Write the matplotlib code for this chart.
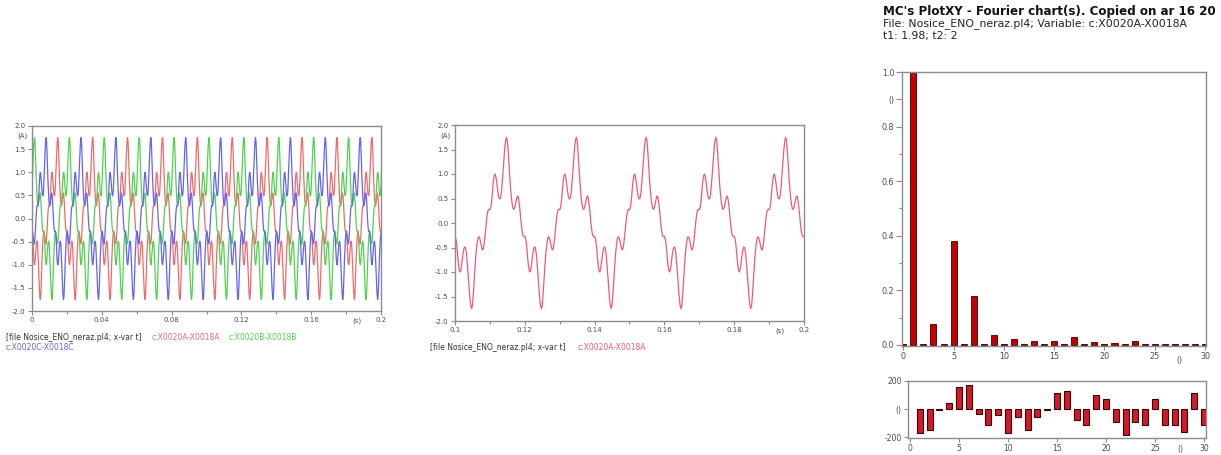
"""
PlotXY screenshot: three-phase currents, one phase zoomed, and its Fourier chart
"""

import numpy as np
import matplotlib
matplotlib.use('Agg')
import matplotlib.pyplot as plt
import matplotlib.transforms as mtransforms

plt.rcParams['font.family'] = ['DejaVu Sans']

W, H = 1221, 455

step_ms = 0.25
period_ms = 20.0
neg_half = [-0.27, -0.32, -0.45, -0.65, -0.85, -0.97, -1.00, -0.93, -0.80, -0.65,
            -0.54, -0.49, -0.50, -0.60, -0.80, -1.05, -1.30, -1.52, -1.68, -1.75,
            -1.68, -1.45, -1.15, -0.88, -0.64, -0.46, -0.34, -0.28, -0.29, -0.36,
            -0.45, -0.53, -0.55, -0.48, -0.34, -0.15, 0.03, 0.18, 0.26, 0.28]
pos_half = [0.27, 0.32, 0.45, 0.65, 0.85, 0.97, 1.00, 0.93, 0.80, 0.65,
            0.54, 0.49, 0.50, 0.60, 0.80, 1.05, 1.30, 1.52, 1.68, 1.75,
            1.68, 1.45, 1.15, 0.88, 0.64, 0.46, 0.34, 0.28, 0.29, 0.36,
            0.45, 0.53, 0.55, 0.48, 0.34, 0.15, -0.03, -0.18, -0.26, -0.28]
wave_period = neg_half + pos_half

# phase shifts of the three currents (fraction of a period)
phase_names = ['c:X0020A-X0018A', 'c:X0020B-X0018B', 'c:X0020C-X0018C']
phase_shift = [0.0, 1 / 3, 2 / 3]
phase_colors = ['#f06a6a', '#4fd34f', '#6464f0']

# Fourier chart of c:X0020A-X0018A
orders = list(range(0, 31))
magnitude = [0.003, 1.0, 0.004, 0.075, 0.004, 0.38, 0.004, 0.18, 0.005, 0.035,
             0.004, 0.02, 0.005, 0.015, 0.005, 0.015, 0.005, 0.03, 0.005, 0.01,
             0.004, 0.008, 0.005, 0.015, 0.005, 0.005, 0.004, 0.004, 0.004, 0.004,
             0.004]
phase_orders = list(range(1, 31))
phase_deg = [-170, -145, -5, 45, 160, 170, -35, -115, -45, -170,
             -55, -150, -55, -5, 115, 130, -80, -115, 100, 75,
             -90, -185, -90, -115, 75, -115, -115, -160, 115, -115]

# time base: 12 periods starting one period before 0
n_per = 12
t_ms = -period_ms + np.arange(n_per * len(wave_period) + 1) * step_ms
wave = np.append(np.tile(wave_period, n_per), wave_period[0])
t = t_ms / 1000.0
T = period_ms / 1000.0

SPINE = '#8c8c8c'
LABEL = '#4a4a4a'
LEG = 5.5


def box(x0, y0, x1, y1):
    return [x0 / W, 1 - y1 / H, (x1 - x0) / W, (y1 - y0) / H]


def style(ax, size):
    for s in ax.spines.values():
        s.set_color(SPINE)
        s.set_linewidth(1.0)
    ax.tick_params(which='both', direction='out', colors=SPINE, labelcolor=LABEL,
                   labelsize=size, length=3, width=0.8, pad=1.5)
    ax.tick_params(which='minor', length=2)


def wave_axes(ax, xlim, xticks, xlabels, xminor, s_pos):
    ax.set_xlim(*xlim)
    ax.set_ylim(-2.0, 2.0)
    ax.set_xticks(xticks)
    ax.set_xticklabels(xlabels)
    ax.set_xticks(xminor, minor=True)
    yt = np.arange(-2.0, 2.01, 0.5)
    ax.set_yticks(yt)
    ax.set_yticklabels([f'{v:.1f}' for v in yt])
    style(ax, 5)
    tr = mtransforms.blended_transform_factory(ax.transData, ax.transAxes)
    ax.text(s_pos, -0.035, '(s)', transform=tr, ha='center', va='top',
            fontsize=5, color=LABEL)
    tr = mtransforms.blended_transform_factory(ax.transAxes, ax.transData)
    ax.text(-0.012, 1.78, '(A)', transform=tr, ha='right', va='center',
            fontsize=5, color=LABEL)


fig = plt.figure(figsize=(W / 100, H / 100), dpi=100)

# ---- left: three phase currents
ax1 = fig.add_axes(box(32, 126, 381, 311))
for name, shift, col in zip(phase_names, phase_shift, phase_colors):
    ax1.plot(t + shift * T, wave, color=col, lw=0.9)
wave_axes(ax1, (0, 0.2), [0, 0.04, 0.08, 0.12, 0.16, 0.2],
          ['0', '0.04', '0.08', '0.12', '0.16', '0.2'],
          [0.02, 0.06, 0.10, 0.14, 0.18], 0.186)

fig.text(6 / W, 1 - 337 / H, '[file Nosice_ENO_neraz.pl4; x-var t]', fontsize=LEG,
         color='#333333', va='center')
fig.text(152 / W, 1 - 337 / H, phase_names[0], fontsize=LEG, color=phase_colors[0], va='center')
fig.text(229 / W, 1 - 337 / H, phase_names[1], fontsize=LEG, color=phase_colors[1], va='center')
fig.text(6 / W, 1 - 348 / H, phase_names[2], fontsize=LEG, color=phase_colors[2], va='center')

# ---- middle: phase A only, 0.1 .. 0.2 s
ax2 = fig.add_axes(box(455, 125, 804, 321))
ax2.plot(t, wave, color='#ee5a78', lw=0.9)
wave_axes(ax2, (0.1, 0.2), [0.1, 0.12, 0.14, 0.16, 0.18, 0.2],
          ['0.1', '0.12', '0.14', '0.16', '0.18', '0.2'],
          [0.11, 0.13, 0.15, 0.17, 0.19], 0.193)

fig.text(430 / W, 1 - 348 / H, '[file Nosice_ENO_neraz.pl4; x-var t]', fontsize=LEG,
         color='#333333', va='center')
fig.text(578 / W, 1 - 348 / H, phase_names[0], fontsize=LEG, color='#ee5a78', va='center')

# ---- right: Fourier chart
fig.text(883 / W, 1 - 12 / H, "MC's PlotXY - Fourier chart(s). Copied on ar 16 20",
         fontsize=8.6, fontweight='bold', color='#111111', va='center')
fig.text(883 / W, 1 - 24 / H, 'File: Nosice_ENO_neraz.pl4; Variable: c:X0020A-X0018A',
         fontsize=7.8, color='#222222', va='center')
fig.text(883 / W, 1 - 36 / H, 't1: 1.98; t2: 2', fontsize=7.8, color='#222222', va='center')

ax3 = fig.add_axes(box(902, 72, 1206, 346))
ax3.bar(orders, magnitude, width=0.6, color='#c40000', edgecolor='#3a0000', linewidth=0.6)
ax3.set_xlim(-0.13, 30.1)
ax3.set_ylim(-0.004, 1.0)
ax3.set_xticks([0, 5, 10, 15, 20, 25, 30])
ax3.set_xticklabels(['0', '5', '10', '15', '20', '25', '30'])
ax3.set_yticks([0.0, 0.2, 0.4, 0.6, 0.8, 0.9, 1.0])
ax3.set_yticklabels(['0.0', '0.2', '0.4', '0.6', '0.8', '()', '1.0'])
ax3.set_yticks([0.1, 0.3, 0.5, 0.7], minor=True)
style(ax3, 5.8)
ax3.tick_params(axis='y', length=4)
tr = mtransforms.blended_transform_factory(ax3.transData, ax3.transAxes)
ax3.text(27.5, -0.035, '()', transform=tr, ha='center', va='top', fontsize=5.8, color=LABEL)

ax4 = fig.add_axes(box(908, 381, 1206, 438))
ax4.bar(phase_orders, phase_deg, width=0.6, color='#d21a2a', edgecolor='#3a0000', linewidth=0.8)
ax4.set_xlim(-0.2, 30.2)
ax4.set_ylim(-205, 200)
ax4.set_xticks([0, 5, 10, 15, 20, 25, 30])
ax4.set_xticklabels(['0', '5', '10', '15', '20', '25', '30'])
ax4.set_yticks([-200, 0, 200])
ax4.set_yticklabels(['-200', '()', '200'])
style(ax4, 5.5)
tr = mtransforms.blended_transform_factory(ax4.transData, ax4.transAxes)
ax4.text(27.6, -0.12, '()', transform=tr, ha='center', va='top', fontsize=5.5, color=LABEL)

fig.savefig('out.png', dpi=100, facecolor='white')
